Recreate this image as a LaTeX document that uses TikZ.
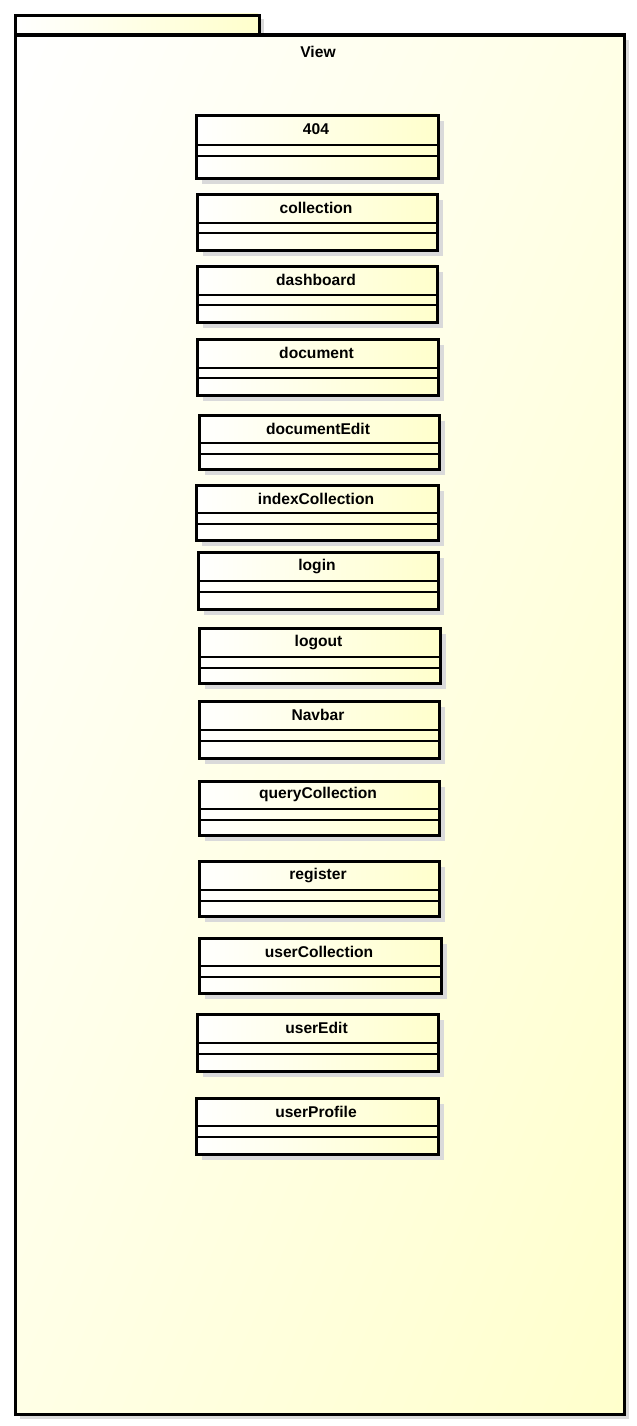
\documentclass[tikz,border=0pt]{standalone}
\usepackage{fontspec}
\setmainfont{Liberation Sans}
\usetikzlibrary{shadings}
\definecolor{ylw}{RGB}{255,255,204}
\definecolor{ymid}{RGB}{255,255,230}
\definecolor{shadowgray}{RGB}{218,218,218}
\tikzset{
  pkgline/.style={line width=2.4pt},
  boxline/.style={line width=2.4pt},
  compline/.style={line width=1pt},
  shadowbox/.style={fill=shadowgray, draw=none, inner sep=0pt, anchor=north west},
  lbl/.style={font=\fontsize{11.7}{13}\selectfont\bfseries, inner sep=0pt},
}
\newcommand\umlcls[8]{%
  % #1 name, #2 x1, #3 y1, #4 x2, #5 y2, #6 line1, #7 line2, #8 text
  \node[shadowbox, minimum width=(#4-#2-2)*0.75pt, minimum height=(#5-#3-2)*0.75pt] (#1-s) at (#2+8,#3+8) {};
  \shade[left color=white, right color=ylw] (#2+1,#3+1) rectangle (#4-1,#5-1);
  \node[draw, boxline, inner sep=0pt, minimum width=(#4-#2-2)*0.75pt, minimum height=(#5-#3-2)*0.75pt, anchor=north west] (#1) at (#2+1,#3+1) {};
  \draw[compline] (#1.west |- 0,#6) -- (#1.east |- 0,#6);
  \draw[compline] (#1.west |- 0,#7) -- (#1.east |- 0,#7);
  \node[lbl] (#1-t) at ({(#2+#4)/2},{(#3+#6)/2+0.5}) {#8};
}
\begin{document}
\begin{tikzpicture}[x=0.75pt,y=-0.75pt]
\useasboundingbox (0,0) rectangle (636,1426);
% package shadows
\node[shadowbox, minimum width=245*0.75pt, minimum height=20*0.75pt] (tab-s) at (19,19) {};
\node[shadowbox, minimum width=608.5*0.75pt, minimum height=1379*0.75pt] (pkg-s) at (20,40) {};
% tab
\shade[left color=white, right color=ylw] (14,14) rectangle (258,33.5);
\node[draw, pkgline, inner sep=0pt, minimum width=244*0.75pt, minimum height=19.5*0.75pt, anchor=north west] (tab) at (14,14) {};
% body
\shade[upper left=white, upper right=ymid, lower left=ymid, lower right=ylw] (14,33.5) rectangle (622.5,1412.7);
\node[draw, pkgline, inner sep=0pt, minimum width=608.5*0.75pt, minimum height=1379.2*0.75pt, anchor=north west] (pkg) at (14,33.5) {};
\node[lbl] (title) at (318,51.5) {View};
% classes
\umlcls{c404}{194}{113}{438}{178}{145}{156}{404}
\umlcls{ccollection}{195}{192}{437}{250}{223}{233}{collection}
\umlcls{cdashboard}{195}{264}{437}{322}{295}{305}{dashboard}
\umlcls{cdocument}{195}{337}{438}{395}{368}{378}{document}
\umlcls{cdocumentEdit}{197}{413}{439}{469}{443}{454}{documentEdit}
\umlcls{cindexCollection}{194}{483}{438}{540}{513}{524}{indexCollection}
\umlcls{clogin}{196}{550}{438}{609}{581}{592}{login}
\umlcls{clogout}{197}{626}{440}{683}{657}{668}{logout}
\umlcls{cNavbar}{197}{699}{439}{758}{730}{741}{Navbar}
\umlcls{cqueryCollection}{197}{779}{439}{835}{809}{820}{queryCollection}
\umlcls{cregister}{197}{859}{439}{916}{890}{901}{register}
\umlcls{cuserCollection}{197}{936}{441}{993}{966}{977}{userCollection}
\umlcls{cuserEdit}{195}{1012}{438}{1071}{1043}{1054}{userEdit}
\umlcls{cuserProfile}{194}{1096}{438}{1154}{1126}{1137}{userProfile}
\end{tikzpicture}
\end{document}
